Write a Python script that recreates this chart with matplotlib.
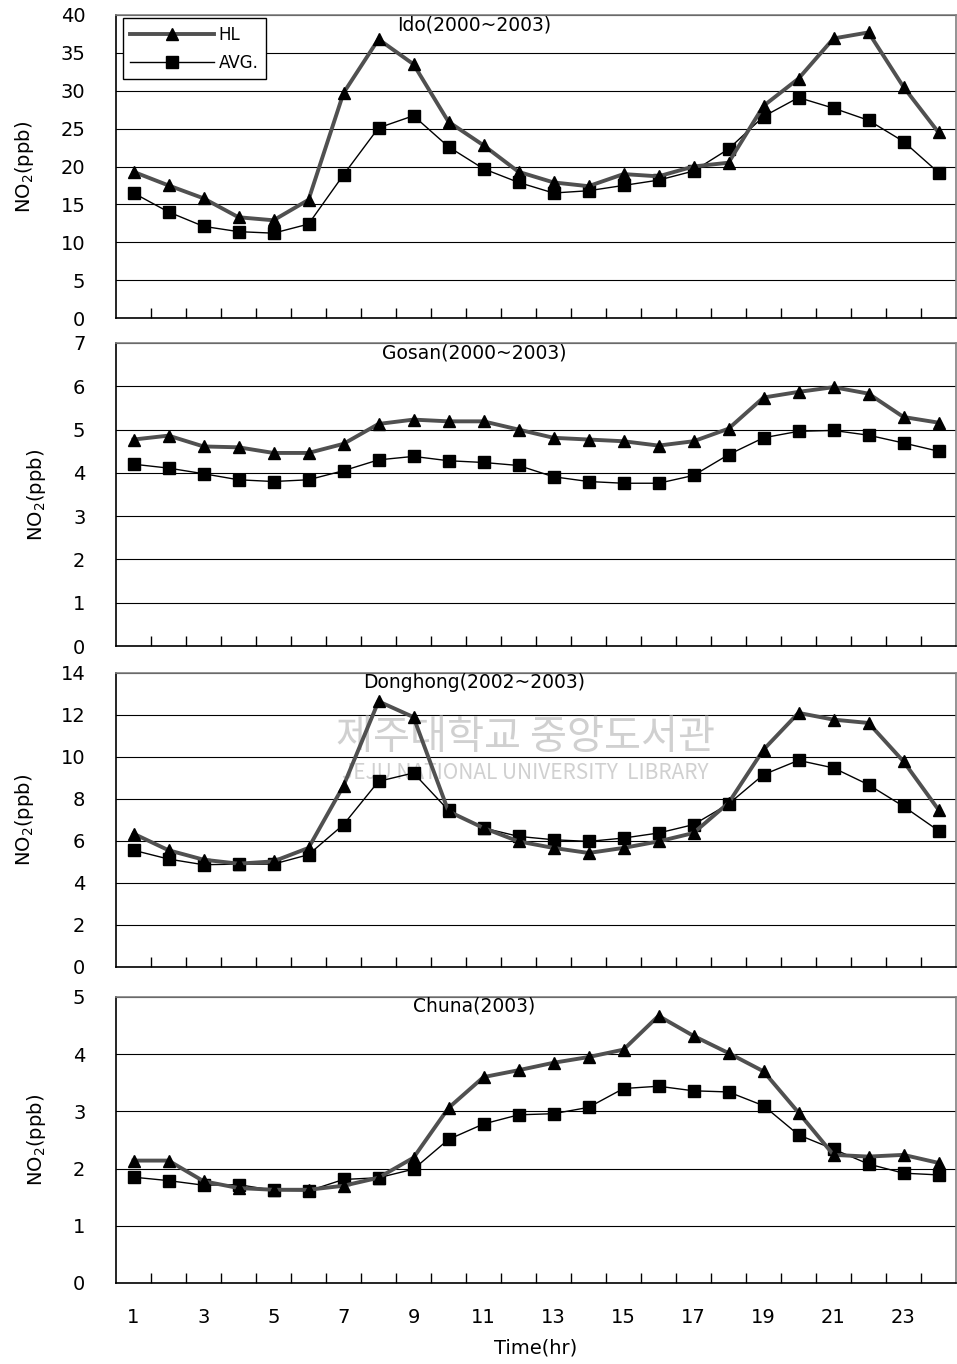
import matplotlib
matplotlib.use("Agg")
import matplotlib.pyplot as plt
from matplotlib.ticker import MultipleLocator, FixedLocator, NullFormatter

plt.rcParams['font.family'] = ['DejaVu Sans']

hours = list(range(1, 25))

# hourly NO2 (ppb): high-level days vs. overall average
ido_hl = [19.3, 17.5, 15.8, 13.3, 12.9, 15.6, 29.7, 36.8, 33.5, 25.9, 22.8, 19.3,
          17.9, 17.4, 19.0, 18.7, 20.0, 20.5, 28.0, 31.6, 36.9, 37.7, 30.5, 24.5]
ido_avg = [16.5, 14.0, 12.1, 11.4, 11.2, 12.4, 18.9, 25.1, 26.7, 22.6, 19.7, 17.9,
           16.5, 16.8, 17.5, 18.2, 19.4, 22.3, 26.6, 29.1, 27.7, 26.1, 23.3, 19.2]

gosan_hl = [4.77, 4.86, 4.61, 4.59, 4.46, 4.46, 4.67, 5.13, 5.23, 5.19, 5.19, 5.00,
            4.81, 4.77, 4.73, 4.63, 4.73, 5.02, 5.74, 5.87, 5.98, 5.83, 5.29, 5.16]
gosan_avg = [4.20, 4.11, 3.98, 3.84, 3.80, 3.84, 4.05, 4.30, 4.38, 4.28, 4.24, 4.17,
             3.91, 3.80, 3.76, 3.76, 3.94, 4.42, 4.81, 4.96, 4.98, 4.87, 4.69, 4.50]

donghong_hl = [6.35, 5.56, 5.11, 4.92, 5.03, 5.67, 8.63, 12.65, 11.9, 7.41, 6.62, 5.98,
               5.67, 5.43, 5.67, 5.98, 6.38, 7.81, 10.35, 12.1, 11.78, 11.62, 9.79, 7.49]
donghong_avg = [5.56, 5.14, 4.87, 4.90, 4.90, 5.35, 6.78, 8.84, 9.24, 7.46, 6.62, 6.22,
                6.06, 5.98, 6.14, 6.38, 6.78, 7.76, 9.16, 9.84, 9.48, 8.68, 7.65, 6.49]

chuna_hl = [2.14, 2.14, 1.78, 1.66, 1.63, 1.63, 1.70, 1.84, 2.19, 3.06, 3.60, 3.72,
            3.85, 3.95, 4.08, 4.67, 4.32, 4.02, 3.70, 2.98, 2.24, 2.21, 2.24, 2.10]
chuna_avg = [1.85, 1.79, 1.71, 1.72, 1.62, 1.61, 1.81, 1.84, 1.99, 2.51, 2.78, 2.94,
             2.96, 3.07, 3.40, 3.44, 3.36, 3.34, 3.10, 2.59, 2.34, 2.08, 1.92, 1.89]

titles = ["Ido(2000~2003)", "Gosan(2000~2003)", "Donghong(2002~2003)", "Chuna(2003)"]
y_max = [40, 7, 14, 5]
y_step = [5, 1, 2, 1]
series = [(ido_hl, ido_avg), (gosan_hl, gosan_avg),
          (donghong_hl, donghong_avg), (chuna_hl, chuna_avg)]

W, H = 957, 1364
fig = plt.figure(figsize=(W / 100, H / 100), dpi=100)

# panel boxes in pixels: (top, bottom)
boxes = [(15, 318), (343, 646), (673, 967), (997, 1283)]
left_px, right_px = 116, 956

axes = []
for i, (top, bot) in enumerate(boxes):
    ax = fig.add_axes([left_px / W, 1 - bot / H, (right_px - left_px) / W, (bot - top) / H])
    axes.append(ax)
    hl, avg = series[i]

    ax.plot(hours, hl, color="#505050", lw=2.8, marker="^", ms=9,
            mfc="black", mec="black", label="HL", zorder=4)
    ax.plot(hours, avg, color="black", lw=1.0, marker="s", ms=8,
            mfc="black", mec="black", label="AVG.", zorder=3)

    ax.set_xlim(0.5, 24.5)
    ax.set_ylim(0, y_max[i])
    ax.yaxis.set_major_locator(MultipleLocator(y_step[i]))
    ax.yaxis.grid(True, color="black", lw=0.8)
    ax.set_axisbelow(True)
    ax.tick_params(axis="y", length=0, pad=22, labelsize=14)

    ax.xaxis.set_minor_locator(FixedLocator([h + 0.5 for h in hours[:-1]]))
    ax.xaxis.set_minor_formatter(NullFormatter())
    ax.tick_params(axis="x", which="minor", direction="in", length=7, width=1, color="black")
    ax.xaxis.set_major_locator(FixedLocator(hours[::2]))
    ax.tick_params(axis="x", which="major", length=0, pad=18, labelsize=14)
    if i < 3:
        ax.tick_params(axis="x", which="major", labelbottom=False)

    for side in ("left", "bottom"):
        ax.spines[side].set_color("black")
        ax.spines[side].set_linewidth(1.2)
    for side in ("top", "right"):
        ax.spines[side].set_color("#808080")
        ax.spines[side].set_linewidth(1.2)

    ax.set_ylabel("NO$_2$(ppb)", fontsize=14, labelpad=18)
    ax.text(0.426, 0.967, titles[i], transform=ax.transAxes, ha="center", va="center",
            fontsize=13.5)

axes[0].legend(loc="upper left", bbox_to_anchor=(0.008, 0.99), borderaxespad=0,
               fontsize=12, handlelength=5.0, handletextpad=0.3, labelspacing=0.6,
               borderpad=0.45, fancybox=False, framealpha=1, edgecolor="black")
axes[0].get_legend().get_frame().set_linewidth(1.0)

axes[3].set_xlabel("Time(hr)", fontsize=14, labelpad=8)

# faint library stamp over the Donghong panel
axes[2].text(0.487, 0.78, "제주대학교 중앙도서관", transform=axes[2].transAxes,
             ha="center", va="center", fontsize=29, color="#d0d0d0",
             family=["Noto Sans CJK KR", "DejaVu Sans"], zorder=1)
axes[2].text(0.487, 0.66, "JEJU NATIONAL UNIVERSITY  LIBRARY", transform=axes[2].transAxes,
             ha="center", va="center", fontsize=15, color="#d0d0d0",
             family=["Noto Sans CJK KR", "DejaVu Sans"], zorder=1)

fig.savefig("out.png", dpi=100)
